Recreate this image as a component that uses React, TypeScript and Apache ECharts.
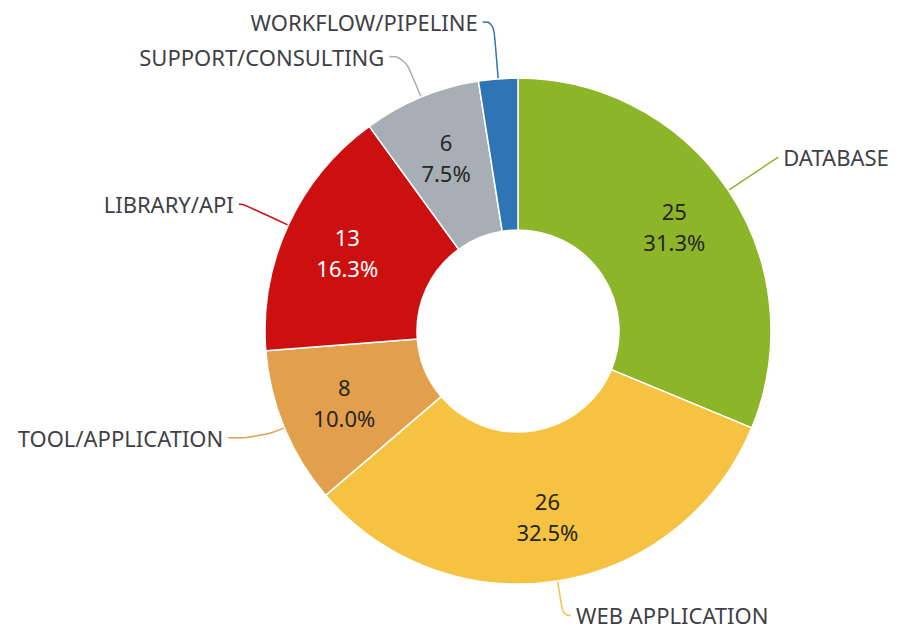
import React, { useEffect, useRef } from "react";
import * as echarts from "echarts";

const categories = [
  "DATABASE",
  "WEB APPLICATION",
  "TOOL/APPLICATION",
  "LIBRARY/API",
  "SUPPORT/CONSULTING",
  "WORKFLOW/PIPELINE",
];
const values = [25, 26, 8, 13, 6, 2];
const sliceColors = ["#8db52a", "#f5c242", "#e2a04c", "#cc1010", "#a7aeb5", "#2f74b5"];
const innerLabelColors = ["#262626", "#262626", "#262626", "#ffffff", "#262626", "#262626"];
// leader line lengths (radial, horizontal) per slice
const lineLen1 = [60, 35, 26, 50, 44, 57];
const lineLen2 = [0, 8, 32, 4, 15, 11];

const FONT = "'Noto Sans', 'Open Sans', sans-serif";

export default function App() {
  const ref = useRef<HTMLDivElement>(null);
  useEffect(() => {
    if (!ref.current) return;
    const chart = echarts.init(ref.current, undefined, { renderer: "svg" });
    const total = values.reduce((a, b) => a + b, 0);
    const center = [518, 331];
    chart.setOption({
      animation: false,
      backgroundColor: "#ffffff",
      series: [
        {
          type: "pie",
          center,
          radius: [101, 253],
          startAngle: 90,
          clockwise: true,
          avoidLabelOverlap: false,
          silent: true,
          itemStyle: { borderColor: "#ffffff", borderWidth: 1.5 },
          label: {
            show: true,
            position: "outside",
            formatter: "{b}",
            fontFamily: FONT,
            fontSize: 22,
            color: "#3f3f46",
            bleedMargin: 2,
          },
          labelLine: { show: true, smooth: 0.5, lineStyle: { width: 1.5 } },
          data: categories.map((name, i) => ({
            name,
            value: values[i],
            itemStyle: { color: sliceColors[i] },
            labelLine: { length: lineLen1[i], length2: lineLen2[i] },
          })),
        },
        {
          type: "pie",
          center,
          radius: [117, 253],
          startAngle: 90,
          clockwise: true,
          silent: true,
          minShowLabelAngle: 15,
          itemStyle: { color: "transparent", borderWidth: 0 },
          label: {
            show: true,
            position: "inside",
            fontFamily: FONT,
            fontSize: 22,
            lineHeight: 31,
            align: "center",
            formatter: (p: any) => `${p.value}\n${((p.value / total) * 100).toFixed(1)}%`,
          },
          labelLine: { show: false },
          data: categories.map((name, i) => ({
            name,
            value: values[i],
            label: { color: innerLabelColors[i] },
          })),
        },
      ],
    });
    return () => chart.dispose();
  }, []);
  return (
    <div
      ref={ref}
      style={{ position: "absolute", left: 0, top: 0, width: 911, height: 632, background: "#fff" }}
    />
  );
}
